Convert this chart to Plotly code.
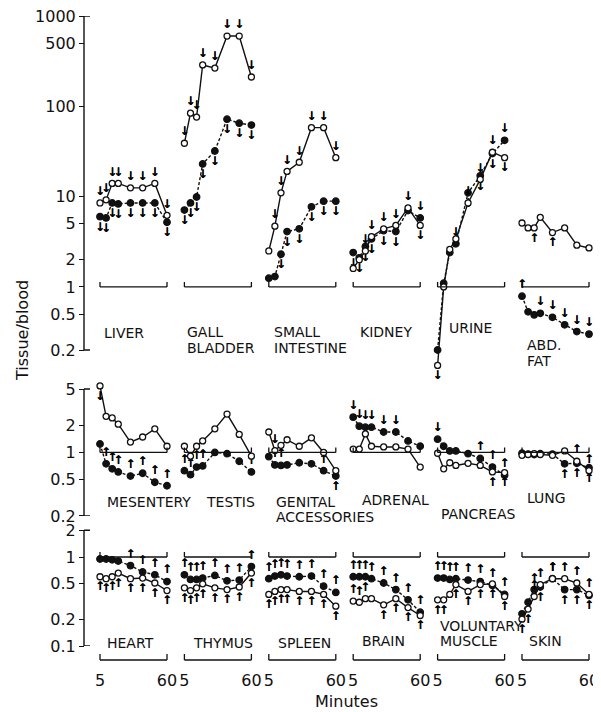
import math
import plotly.graph_objects as go

# ---------------- data ----------------
minutes = [5, 10, 15, 20, 30, 40, 50, 60]

# Row 1
liver_open = [8.5, 9.2, 14, 14, 12.5, 12.5, 14, 6.2]
liver_filled = [6.0, 5.8, 8.5, 8.3, 8.5, 8.5, 8.5, 5.2]
gall_open = [39, 84, 76, 287, 265, 600, 600, 211]
gall_filled = [7.1, 8.5, 9.9, 23, 32, 72, 65, 62]
intestine_open = [2.5, 4.7, 11, 19, 24, 58, 58, 27]
intestine_filled = [1.25, 1.3, 2.3, 4.1, 4.4, 7.7, 8.9, 8.9]
kidney_open = [1.6, 2.0, 2.5, 3.6, 4.4, 4.8, 7.5, 4.8]
kidney_filled = [2.4, 2.1, 2.8, 3.4, 4.2, 4.1, 7.0, 5.8]
urine_open = [0.135, 1.0, 2.6, 3.4, 8.5, 15.5, 31, 27]
urine_filled = [0.2, 1.1, 2.4, 3.0, 11, 17, 30, 42]
fat_open = [5.1, 4.5, 4.5, 5.9, 4.0, 4.5, 2.9, 2.7]
fat_filled = [0.79, 0.53, 0.49, 0.51, 0.46, 0.38, 0.32, 0.30]
# Row 2
mesentery_open = [5.4, 2.5, 2.4, 2.05, 1.3, 1.48, 1.82, 1.17]
mesentery_filled = [1.24, 0.75, 0.66, 0.61, 0.55, 0.59, 0.47, 0.43]
testis_open = [1.17, 0.91, 1.17, 1.34, 1.82, 2.65, 1.58, 0.91]
testis_filled = [0.63, 0.57, 0.69, 0.71, 1.0, 0.97, 0.8, 0.61]
genital_open = [1.68, 1.05, 1.2, 1.38, 1.17, 1.45, 1.0, 0.63]
genital_filled = [0.9, 0.73, 0.72, 0.73, 0.77, 0.75, 0.63, 0.55]
adrenal_open = [1.09, 1.09, 1.6, 1.17, 1.15, 1.15, 1.09, 0.69]
adrenal_filled = [2.45, 1.95, 1.9, 1.9, 1.68, 1.68, 1.34, 1.17]
pancreas_open = [0.98, 0.66, 0.77, 0.72, 0.76, 0.72, 0.61, 0.6]
pancreas_filled = [1.4, 1.17, 1.04, 1.04, 0.97, 0.86, 0.69, 0.56]
lung_open = [0.93, 0.95, 0.97, 0.95, 0.93, 1.04, 0.8, 0.63]
lung_filled = [0.98, 0.96, 0.95, 0.97, 0.96, 0.75, 0.76, 0.68]
# Row 3
heart_open = [0.6, 0.57, 0.6, 0.66, 0.57, 0.58, 0.51, 0.42]
heart_filled = [0.95, 0.95, 0.93, 0.9, 0.8, 0.68, 0.63, 0.53]
thymus_open = [0.45, 0.42, 0.45, 0.5, 0.45, 0.43, 0.46, 0.66]
thymus_filled = [0.63, 0.56, 0.56, 0.58, 0.62, 0.54, 0.55, 0.78]
spleen_open = [0.38, 0.41, 0.43, 0.43, 0.41, 0.41, 0.38, 0.28]
spleen_filled = [0.57, 0.61, 0.63, 0.61, 0.6, 0.61, 0.47, 0.4]
brain_open = [0.32, 0.31, 0.34, 0.34, 0.29, 0.34, 0.27, 0.22]
brain_filled = [0.6, 0.6, 0.6, 0.57, 0.51, 0.43, 0.33, 0.24]
muscle_open = [0.33, 0.33, 0.38, 0.49, 0.41, 0.49, 0.5, 0.36]
muscle_filled = [0.58, 0.58, 0.56, 0.57, 0.55, 0.53, 0.48, 0.38]
skin_open = [0.2, 0.26, 0.36, 0.49, 0.57, 0.57, 0.51, 0.38]
skin_filled = [0.23, 0.31, 0.43, 0.46, 0.57, 0.43, 0.43, 0.37]

# significance arrows: 'ad' above/down, 'bd' below/down, 'au' above/up, 'bu' below/up
N = ''
liver_open_arr = ['ad'] * 8
liver_filled_arr = ['bd'] * 8
gall_open_arr = ['ad'] * 8
gall_filled_arr = ['bd'] * 8
intestine_open_arr = [N, 'ad', 'ad', 'ad', 'ad', 'ad', 'ad', 'ad']
intestine_filled_arr = [N, N, 'bd', 'bd', 'bd', 'bd', 'bd', 'bd']
kidney_open_arr = [N, N, 'ad', 'ad', 'ad', 'ad', 'ad', 'bd']
kidney_filled_arr = ['bd', 'bd', 'bd', 'bd', 'bd', 'bd', N, 'ad']
urine_open_arr = ['bd', N, N, N, 'ad', 'ad', 'ad', 'bd']
urine_filled_arr = [N, N, N, 'ad', 'bd', 'bd', 'bd', 'ad']
fat_open_arr = [N, N, 'bu', N, 'bu', N, N, N]
fat_filled_arr = ['au', N, N, 'ad', 'ad', 'ad', 'ad', 'ad']
mesentery_open_arr = ['bd', N, N, N, N, N, N, N]
mesentery_filled_arr = [N, 'au', 'au', 'au', 'au', 'au', 'au', 'au']
testis_open_arr = [N] * 8
testis_filled_arr = ['au', 'au', 'au', 'au', N, N, N, 'au']
genital_open_arr = [N, 'ad', N, N, N, N, N, N]
genital_filled_arr = [N, 'au', 'au', N, N, N, 'au', 'bu']
adrenal_open_arr = [N] * 8
adrenal_filled_arr = ['ad', 'ad', 'ad', 'ad', 'ad', 'ad', N, N]
pancreas_open_arr = [N, N, N, N, N, N, 'bu', 'bu']
pancreas_filled_arr = ['ad', N, N, N, N, 'au', 'au', 'au']
lung_open_arr = [N, N, N, N, N, N, 'au', 'au']
lung_filled_arr = [N, N, N, N, N, 'bu', 'bu', 'bu']
heart_open_arr = ['bu'] * 8
heart_filled_arr = [N, N, N, N, 'au', 'au', 'au', 'au']
thymus_open_arr = ['bu'] * 8
thymus_filled_arr = ['au'] * 8
spleen_open_arr = ['bu'] * 8
spleen_filled_arr = ['au'] * 8
brain_open_arr = ['au', 'au', 'au', N, 'bu', 'bu', 'bu', 'bu']
brain_filled_arr = ['au'] * 8
muscle_open_arr = ['bu', 'bu', N, 'bu', 'bu', 'bu', 'bu', 'bu']
muscle_filled_arr = ['au'] * 8
skin_open_arr = ['bu', 'bu', 'au', 'au', 'au', 'au', 'au', 'au']
skin_filled_arr = [N, N, 'au', 'bu', 'au', 'bu', 'bu', 'bu']

panel_names = [
    ['LIVER'], ['GALL', 'BLADDER'], ['SMALL', 'INTESTINE'], ['KIDNEY'], ['URINE'], ['ABD.', 'FAT'],
    ['MESENTERY'], ['TESTIS'], ['GENITAL', 'ACCESSORIES'], ['ADRENAL'], ['PANCREAS'], ['LUNG'],
    ['HEART'], ['THYMUS'], ['SPLEEN'], ['BRAIN'], ['VOLUNTARY', 'MUSCLE'], ['SKIN'],
]
open_series = [liver_open, gall_open, intestine_open, kidney_open, urine_open, fat_open,
               mesentery_open, testis_open, genital_open, adrenal_open, pancreas_open, lung_open,
               heart_open, thymus_open, spleen_open, brain_open, muscle_open, skin_open]
filled_series = [liver_filled, gall_filled, intestine_filled, kidney_filled, urine_filled, fat_filled,
                 mesentery_filled, testis_filled, genital_filled, adrenal_filled, pancreas_filled, lung_filled,
                 heart_filled, thymus_filled, spleen_filled, brain_filled, muscle_filled, skin_filled]
open_arrows = [liver_open_arr, gall_open_arr, intestine_open_arr, kidney_open_arr, urine_open_arr, fat_open_arr,
               mesentery_open_arr, testis_open_arr, genital_open_arr, adrenal_open_arr, pancreas_open_arr, lung_open_arr,
               heart_open_arr, thymus_open_arr, spleen_open_arr, brain_open_arr, muscle_open_arr, skin_open_arr]
filled_arrows = [liver_filled_arr, gall_filled_arr, intestine_filled_arr, kidney_filled_arr, urine_filled_arr, fat_filled_arr,
                 mesentery_filled_arr, testis_filled_arr, genital_filled_arr, adrenal_filled_arr, pancreas_filled_arr, lung_filled_arr,
                 heart_filled_arr, thymus_filled_arr, spleen_filled_arr, brain_filled_arr, muscle_filled_arr, skin_filled_arr]

row_ticks = [
    [0.2, 0.5, 1, 2, 5, 10, 100, 500, 1000],
    [0.2, 0.5, 1, 2, 5],
    [0.1, 0.2, 0.5, 1, 2],
]
row_tick_text = [
    ['0.2', '0.5', '1', '2', '5', '10', '100', '500', '1000'],
    ['0.2', '0.5', '1', '2', '5'],
    ['0.1', '0.2', '0.5', '1', '2'],
]
x_ticks = [5, 60]
x_tick_text = ['5', '60']

# ---------------- layout geometry ----------------
# The page is shown with an 8px body offset, so positions below are given in
# screenshot pixels and converted with that offset.
W, H = 601, 712
OFF = 8
ML, MR = 84 - OFF, 6 + OFF
PW = W - ML - MR
FONT = 'DejaVu Sans'
INK = '#111111'


def px2x(px):
    return (px - OFF - ML) / PW


def py2y(py):
    return 1 - (py - OFF) / H


X_RANGE = [3, 62]
COL_LEFT0, COL_STEP, COL_W = 97.56, 84.4, 71.88
# (anchor value, anchor pixel, px per decade, range lo, range hi, axis lo, axis hi)
row_geo = [
    (1000, 16, 90.3, 0.11, 1000.5, 0.2, 1000),
    (5, 389, 90.8, 0.2, 5.6, 0.2, 5),
    (1, 557, 89.0, 0.1, 2.1, 0.1, 2),
]
label_pos = [
    [(102, 333)], [(185, 332), (185, 348)], [(272, 332), (272, 348)], [(358, 332)], [(447, 328)], [(525, 345), (525, 361)],
    [(105, 502)], [(204, 502)], [(274, 502), (274, 517)], [(360, 500)], [(439, 514)], [(525, 498)],
    [(105, 643)], [(191, 643)], [(276, 643)], [(360, 641)], [(438, 626), (438, 641)], [(527, 641)],
]

fig = go.Figure()
layout = dict(
    width=W, height=H,
    margin=dict(l=ML, r=MR, t=0, b=0, autoexpand=False),
    paper_bgcolor='white', plot_bgcolor='rgba(0,0,0,0)',
    showlegend=False,
    font=dict(family=FONT, color=INK),
)
shapes = []
annotations = []

ARROW = {'ad': ('↓', 'top center'), 'bd': ('↓', 'bottom center'),
         'au': ('↑', 'top center'), 'bu': ('↑', 'bottom center'), '': ('', 'top center')}

for r, (av, apx, s, lo, hi, alo, ahi) in enumerate(row_geo):
    top = apx - (math.log10(hi) - math.log10(av)) * s
    bot = apx + (math.log10(av) - math.log10(lo)) * s
    yname = 'yaxis' if r == 0 else 'yaxis%d' % (r + 1)
    yref = 'y' if r == 0 else 'y%d' % (r + 1)
    layout[yname] = dict(
        type='log', range=[math.log10(lo), math.log10(hi)],
        domain=[py2y(bot), py2y(top)], anchor='free', position=0,
        showline=False, showgrid=False, zeroline=False, automargin=False,
        ticks='outside', ticklen=5, tickwidth=1.3, tickcolor=INK,
        tickmode='array', tickvals=row_ticks[r], ticktext=row_tick_text[r],
        ticklabeloverflow='allow',
        tickfont=dict(size=16, family=FONT, color=INK),
    )
    # axis spine with end serifs
    shapes.append(dict(type='line', xref='paper', yref=yref, x0=0, x1=0, y0=alo, y1=ahi,
                       line=dict(color=INK, width=1.4)))
    for v in (alo, ahi):
        shapes.append(dict(type='line', xref='paper', yref=yref, x0=0, x1=6 / PW, y0=v, y1=v,
                           line=dict(color=INK, width=1.4)))

for k in range(18):
    r, c = divmod(k, 6)
    xname = 'xaxis' if k == 0 else 'xaxis%d' % (k + 1)
    xref = 'x' if k == 0 else 'x%d' % (k + 1)
    yref = 'y' if r == 0 else 'y%d' % (r + 1)
    left = COL_LEFT0 + COL_STEP * c
    xa = dict(range=X_RANGE, domain=[px2x(left), px2x(left + COL_W)], anchor=yref,
              showgrid=False, zeroline=False, showline=False, automargin=False)
    if r == 2:
        xa.update(tickmode='array', tickvals=x_ticks, ticktext=x_tick_text,
                  ticks='outside', ticklen=20, tickcolor='rgba(0,0,0,0)',
                  ticklabeloverflow='allow',
                  tickfont=dict(size=16, family=FONT, color=INK))
    else:
        xa.update(visible=False)
    layout[xname] = xa

    # bracket at tissue/blood = 1
    tick_hi = 10 ** (5 / 90)
    shapes.append(dict(type='line', xref=xref, yref=yref, x0=minutes[0], x1=minutes[-1], y0=1, y1=1,
                       line=dict(color=INK, width=1.3)))
    for xv in (minutes[0], minutes[-1]):
        shapes.append(dict(type='line', xref=xref, yref=yref, x0=xv, x1=xv, y0=1, y1=tick_hi,
                           line=dict(color=INK, width=1.3)))
    # bottom time bracket
    if r == 2:
        yb, yt = py2y(660), py2y(654)
        shapes.append(dict(type='line', xref=xref, yref='paper', x0=minutes[0], x1=minutes[-1], y0=yb, y1=yb,
                           line=dict(color=INK, width=1.3)))
        for xv in (minutes[0], minutes[-1]):
            shapes.append(dict(type='line', xref=xref, yref='paper', x0=xv, x1=xv, y0=yb, y1=yt,
                               line=dict(color=INK, width=1.3)))

    # filled series (dashed) then open series (solid)
    for vals, arrs, filled in ((filled_series[k], filled_arrows[k], True), (open_series[k], open_arrows[k], False)):
        txt = [ARROW[a][0] for a in arrs]
        pos = [ARROW[a][1] for a in arrs]
        fig.add_trace(go.Scatter(
            x=minutes, y=vals, xaxis=xref, yaxis=yref,
            mode='lines+markers+text', text=txt, textposition=pos,
            textfont=dict(size=12, family=FONT, color='#000000', weight='bold',
                          shadow='0px 0px 0.6px rgba(0,0,0,0.8)'),
            line=dict(color=INK, width=1.4, dash='3px,2px' if filled else 'solid'),
            marker=dict(symbol='circle', size=6.5 if filled else 6,
                        color=INK if filled else 'white',
                        line=dict(color=INK, width=1.3)),
            cliponaxis=False, hoverinfo='x+y',
        ))

    for name, (lx, ly) in zip(panel_names[k], label_pos[k]):
        annotations.append(dict(text=name, xref='paper', yref='paper', x=px2x(lx), y=py2y(ly),
                                xanchor='left', yanchor='middle', showarrow=False,
                                font=dict(size=14, family=FONT, color=INK)))

annotations.append(dict(text='Tissue/blood', xref='paper', yref='paper', x=px2x(22), y=py2y(331),
                        xanchor='center', yanchor='middle', textangle=-90, showarrow=False,
                        font=dict(size=16, family=FONT, color=INK)))
annotations.append(dict(text='Minutes', xref='paper', yref='paper', x=px2x(346), y=py2y(701),
                        xanchor='center', yanchor='middle', showarrow=False,
                        font=dict(size=16, family=FONT, color=INK)))

layout['shapes'] = shapes
layout['annotations'] = annotations
fig.update_layout(**layout)
fig.write_html('out.html')
